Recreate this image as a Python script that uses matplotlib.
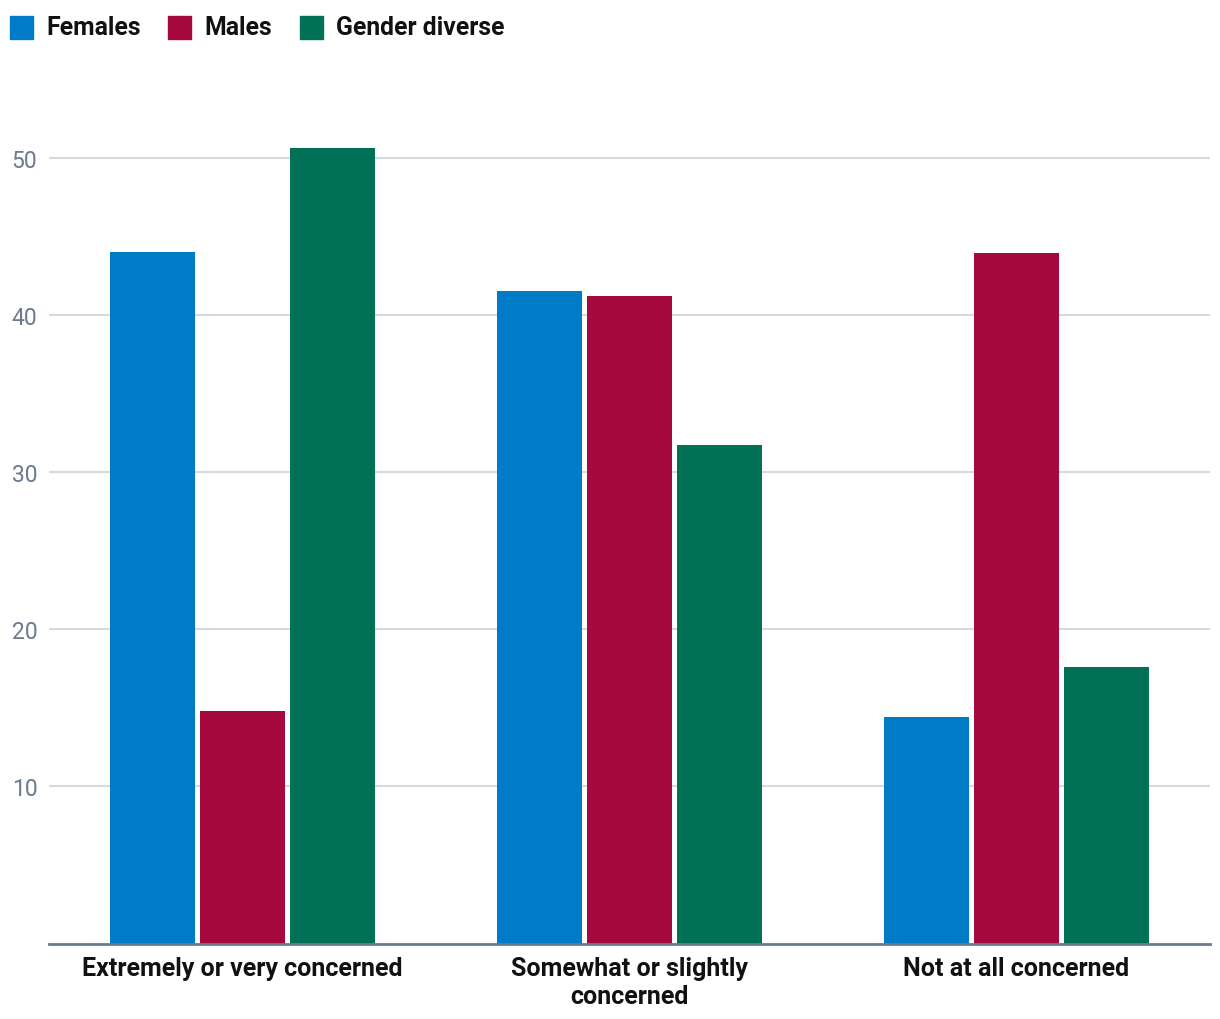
import matplotlib
matplotlib.use("Agg")
import matplotlib.pyplot as plt
import numpy as np
from matplotlib.patches import Rectangle

categories = ["Extremely or very concerned", "Somewhat or slightly\nconcerned", "Not at all concerned"]
series_names = ["Females", "Males", "Gender diverse"]
females = [44.0, 41.5, 14.4]
males = [14.8, 41.2, 43.9]
gender_diverse = [50.6, 31.7, 17.6]
yticks = [10, 20, 30, 40, 50]
colors = ["#007BC7", "#A6093D", "#007056"]

plt.rcParams['font.family'] = ['Roboto', 'DejaVu Sans']

W, H = 1220, 1020
fig = plt.figure(figsize=(W / 100, H / 100), dpi=100)
ax = fig.add_axes([49 / W, 1 - 944.5 / H, (1210 - 49) / W, (944.5 - 79.9) / H])

x = np.arange(len(categories))
bw = 0.222
step = 0.2325
for i, vals in enumerate([females, males, gender_diverse]):
    ax.bar(x + (i - 1) * step, vals, width=bw, color=colors[i], zorder=3)

ax.set_xlim(-0.5, 2.5)
ax.set_ylim(0, 55)
ax.set_yticks(yticks)
ax.set_yticklabels([str(t) for t in yticks])
ax.yaxis.grid(True, color="#D5D9E0", linewidth=1.5, zorder=0)
ax.tick_params(axis='y', length=0, pad=8.5, labelsize=16.5, labelcolor="#6B7A90")
ax.tick_params(axis='x', length=0, pad=9)
ax.set_xticks(x)
ax.set_xticklabels(categories, fontsize=18, fontweight='bold', color="#111111", linespacing=1.22)
for s in ['top', 'right', 'left']:
    ax.spines[s].set_visible(False)
ax.spines['bottom'].set_color("#6B7A8F")
ax.spines['bottom'].set_linewidth(2)
ax.spines['bottom'].set_zorder(4)

# legend drawn in figure coordinates
sq_x = [10, 168, 300]
tx_x = [46, 204, 336]
for i, name in enumerate(series_names):
    fig.patches.append(Rectangle((sq_x[i] / W, 1 - 40 / H), 23 / W, 23 / H,
                                 transform=fig.transFigure, color=colors[i]))
    fig.text(tx_x[i] / W, 1 - 28 / H, name, fontsize=17.8, fontweight='bold',
             color="#111111", va='center', ha='left')

fig.savefig("out.png", dpi=100)
